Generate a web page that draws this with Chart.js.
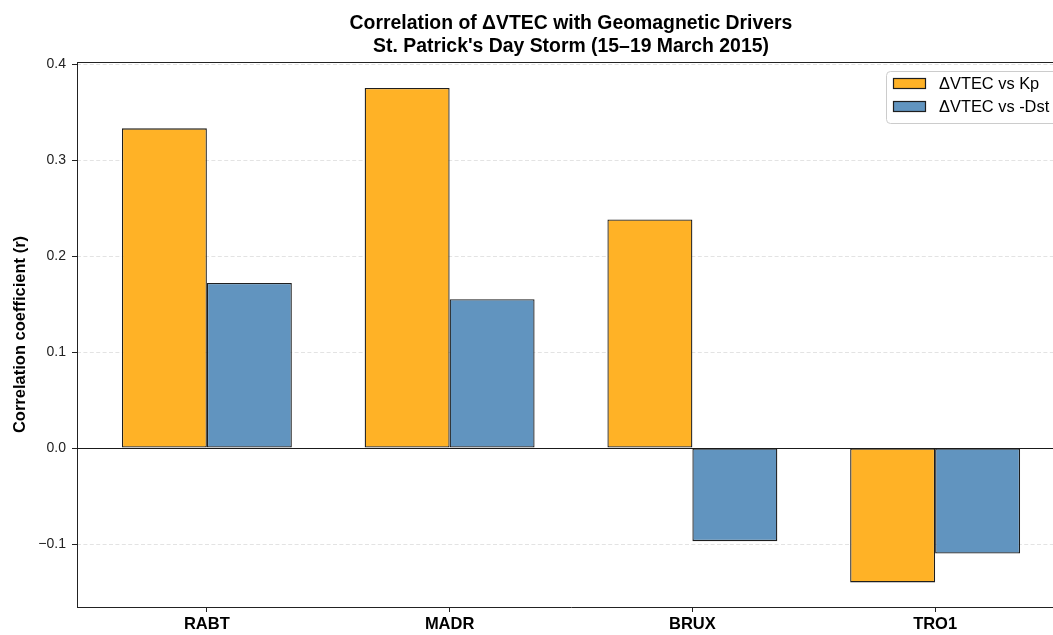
<!DOCTYPE html>
<html>
<head>
<meta charset="utf-8">
<script src="https://cdn.jsdelivr.net/npm/chart.js@4/dist/chart.umd.min.js"></script>
<style>
  html, body { margin: 0; padding: 0; overflow: hidden; background: #ffffff; }
  canvas { display: block; }
</style>
</head>
<body>
<canvas id="corrChart" width="1070" height="635" style="width:1070px;height:635px"></canvas>
<script>
// Stations and correlation coefficients
const stations = ['RABT', 'MADR', 'BRUX', 'TRO1'];
const corrKp = [0.333, 0.375, 0.238, -0.140];
const corrDst = [0.172, 0.155, -0.097, -0.110];
const seriesNames = ['ΔVTEC vs Kp', 'ΔVTEC vs -Dst'];
const yTickValues = [-0.1, 0.0, 0.1, 0.2, 0.3, 0.4];
const titleLines = ['Correlation of ΔVTEC with Geomagnetic Drivers', "St. Patrick's Day Storm (15–19 March 2015)"];
const yAxisLabel = 'Correlation coefficient (r)';

const FONT = "'Liberation Sans', Arial, Helvetica, sans-serif";
const INK = '#222222';
const EDGE = '#1e1e1e';

const toPoints = vals => vals.map((v, i) => ({ x: i, y: v }));

const fmtTick = v => {
  if (Math.abs(v) < 1e-9) return '0.0';
  return v.toFixed(1).replace('-', '\u2212');
};

// Grid lines, zero line, remaining spines, title and legend
const decorations = {
  id: 'decorations',
  beforeDatasetsDraw(chart) {
    const { ctx, chartArea: a, scales: { y } } = chart;
    ctx.save();
    ctx.strokeStyle = 'rgba(0,0,0,0.14)';
    ctx.lineWidth = 0.8;
    ctx.setLineDash([4, 2.4]);
    yTickValues.forEach(v => {
      const py = Math.round(y.getPixelForValue(v)) + 0.5;
      ctx.beginPath();
      ctx.moveTo(a.left, py);
      ctx.lineTo(a.right, py);
      ctx.stroke();
    });
    ctx.restore();
  },
  afterDatasetsDraw(chart) {
    const { ctx, chartArea: a, scales: { y } } = chart;
    ctx.save();
    const zy = Math.round(y.getPixelForValue(0)) + 0.5;
    ctx.strokeStyle = '#1a1a1a';
    ctx.lineWidth = 1.1;
    ctx.beginPath();
    ctx.moveTo(a.left, zy);
    ctx.lineTo(a.right, zy);
    ctx.stroke();
    ctx.restore();
  },
  afterDraw(chart) {
    const { ctx, chartArea: a } = chart;
    ctx.save();
    // top and right spines
    ctx.strokeStyle = INK;
    ctx.lineWidth = 1;
    ctx.beginPath();
    ctx.moveTo(a.left, a.top + 0.5);
    ctx.lineTo(a.right, a.top + 0.5);
    ctx.moveTo(a.right - 0.5, a.top);
    ctx.lineTo(a.right - 0.5, a.bottom);
    ctx.stroke();

    // title
    ctx.fillStyle = '#000000';
    ctx.font = `bold 19.4px ${FONT}`;
    ctx.textAlign = 'center';
    ctx.textBaseline = 'middle';
    const cx = (a.left + a.right) / 2;
    ctx.fillText(titleLines[0], cx, 24);
    ctx.fillText(titleLines[1], cx, 47);

    // legend
    const lx = 886, ly = 71, lw = 172, lh = 52;
    ctx.beginPath();
    ctx.roundRect(lx + 0.5, ly + 0.5, lw, lh, 4);
    ctx.fillStyle = 'rgba(255,255,255,0.85)';
    ctx.fill();
    ctx.strokeStyle = '#cccccc';
    ctx.lineWidth = 1;
    ctx.stroke();
    ctx.font = `16.4px ${FONT}`;
    ctx.textAlign = 'left';
    ctx.textBaseline = 'middle';
    chart.data.datasets.forEach((ds, i) => {
      const py = ly + 7 + i * 23;
      ctx.fillStyle = ds.backgroundColor;
      ctx.fillRect(lx + 7, py, 33, 11);
      ctx.strokeStyle = ds.borderColor;
      ctx.lineWidth = 1.2;
      ctx.strokeRect(lx + 7.5, py + 0.5, 32, 10);
      ctx.fillStyle = '#000000';
      ctx.fillText(ds.label, lx + 53, py + 6);
    });
    ctx.restore();
  }
};

new Chart(document.getElementById('corrChart'), {
  type: 'bar',
  data: {
    datasets: [
      {
        label: seriesNames[0],
        data: toPoints(corrKp),
        backgroundColor: '#FFB226',
        borderColor: EDGE,
        borderWidth: 1.3,
        borderSkipped: false
      },
      {
        label: seriesNames[1],
        data: toPoints(corrDst),
        backgroundColor: '#6194BF',
        borderColor: EDGE,
        borderWidth: 1.3,
        borderSkipped: false
      }
    ]
  },
  options: {
    responsive: false,
    devicePixelRatio: 1,
    animation: false,
    layout: { padding: { top: 62, right: 5, bottom: 0, left: 0 } },
    datasets: { bar: { categoryPercentage: 0.7, barPercentage: 1.0 } },
    plugins: {
      legend: { display: false },
      title: { display: false },
      tooltip: { enabled: false }
    },
    scales: {
      x: {
        type: 'linear',
        min: -0.535,
        max: 3.535,
        offset: false,
        afterBuildTicks: s => { s.ticks = stations.map((_, i) => ({ value: i })); },
        afterFit: s => { s.height = 28; },
        grid: { offset: false, drawOnChartArea: false, drawTicks: true, tickLength: 5, tickColor: INK, tickWidth: 1 },
        border: { color: INK, width: 1 },
        ticks: {
          autoSkip: false,
          maxRotation: 0,
          padding: 3,
          color: '#000000',
          font: { family: FONT, size: 16.5, weight: 'bold' },
          callback: v => stations[v]
        }
      },
      y: {
        type: 'linear',
        min: -0.1656,
        max: 0.4021,
        afterBuildTicks: s => { s.ticks = yTickValues.map(v => ({ value: v })); },
        afterFit: s => { s.width = 77; },
        grid: { drawOnChartArea: false, drawTicks: true, tickLength: 5, tickColor: INK, tickWidth: 1 },
        border: { color: INK, width: 1 },
        ticks: {
          padding: 6,
          color: INK,
          font: { family: FONT, size: 14 },
          callback: v => fmtTick(v)
        },
        title: {
          display: true,
          text: yAxisLabel,
          color: '#000000',
          font: { family: FONT, size: 16.5, weight: 'bold' },
          padding: { top: 11, bottom: 0 }
        }
      }
    }
  },
  plugins: [decorations]
});
</script>
</body>
</html>
